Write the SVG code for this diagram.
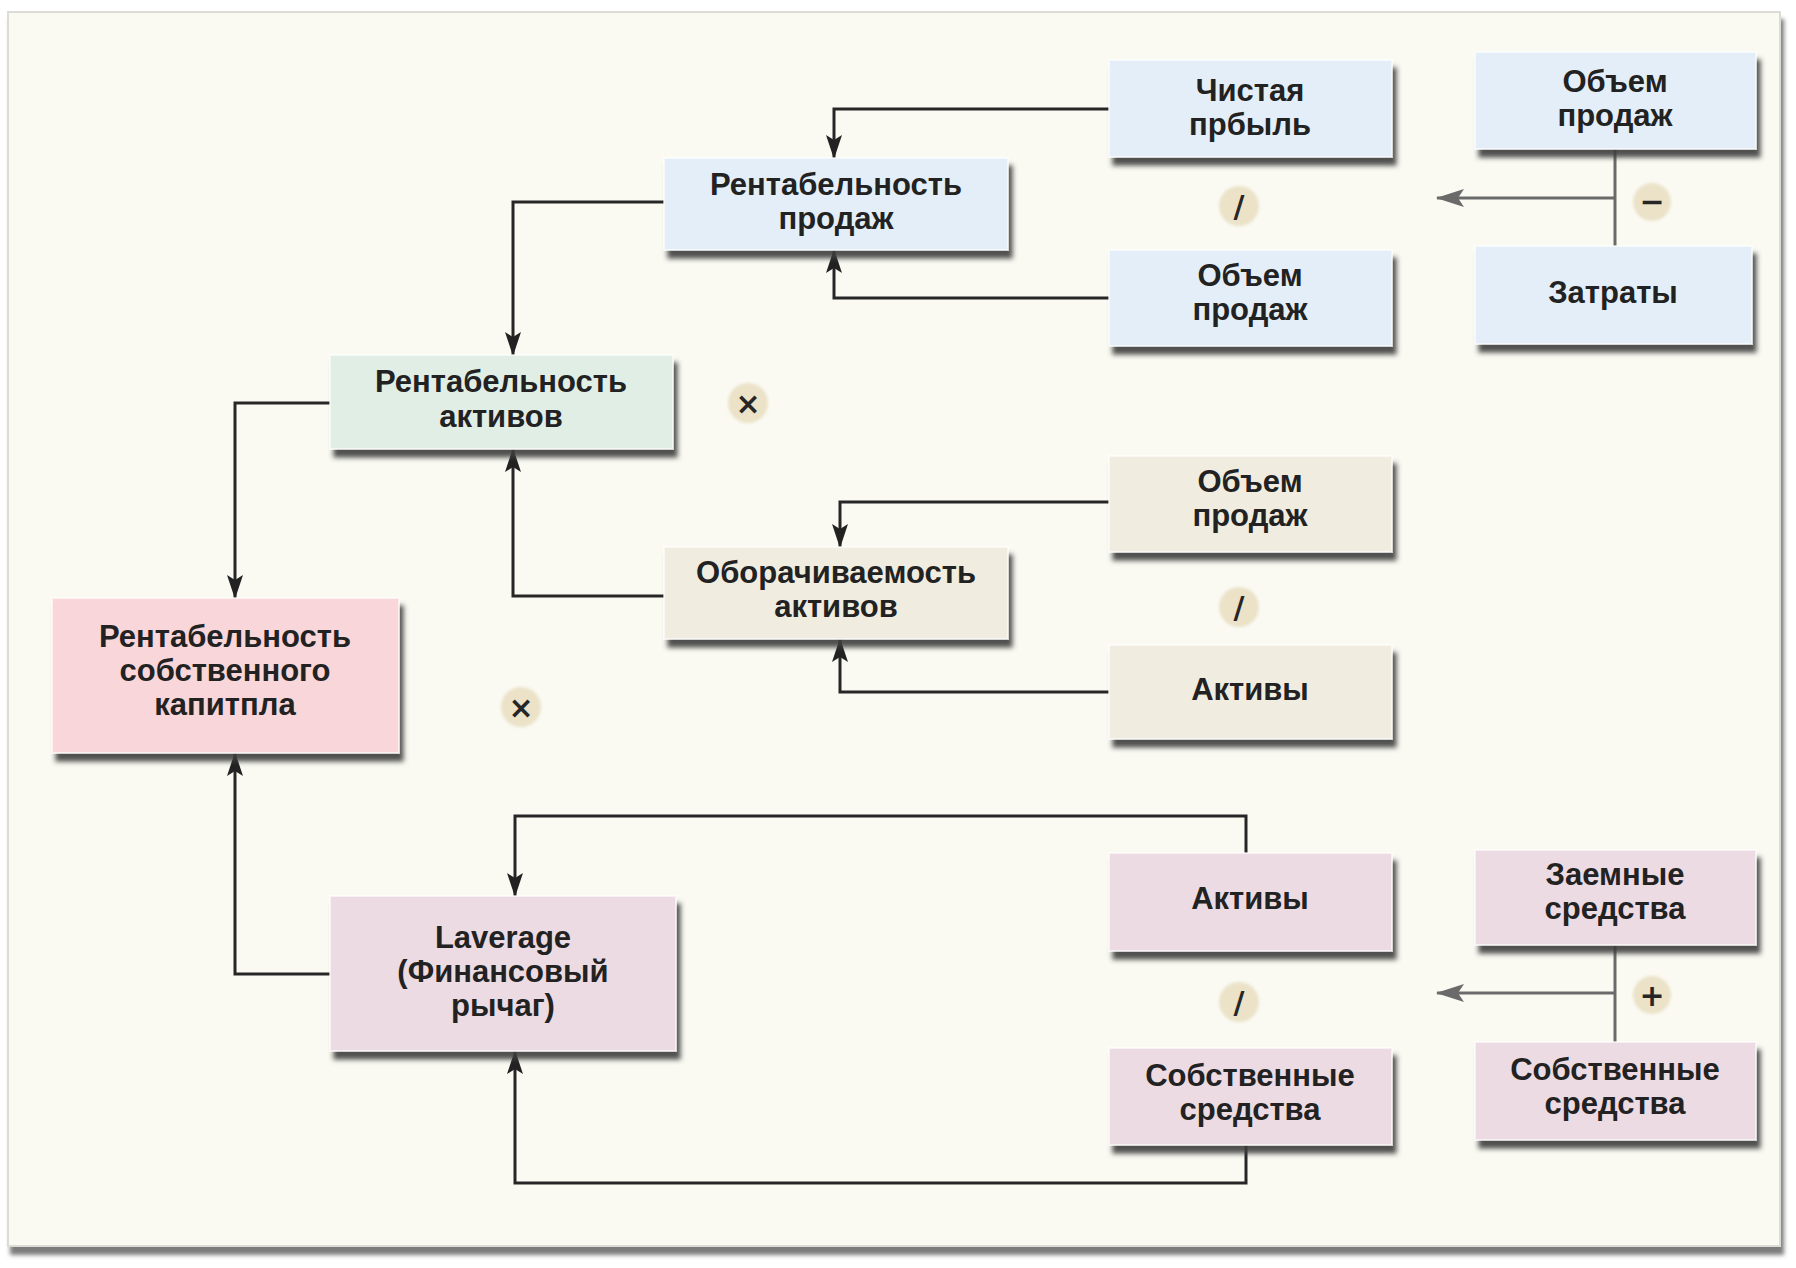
<svg xmlns="http://www.w3.org/2000/svg" width="1796" height="1268" viewBox="0 0 1796 1268">
<defs>
<filter id="sh" x="-10%" y="-10%" width="125%" height="140%">
<feGaussianBlur in="SourceAlpha" stdDeviation="2.5"/>
<feOffset dx="4" dy="8" result="b"/>
<feFlood flood-color="#3e3e3e" flood-opacity="0.9"/>
<feComposite in2="b" operator="in"/>
<feMerge><feMergeNode/><feMergeNode in="SourceGraphic"/></feMerge>
</filter>
<filter id="psh" x="-2%" y="-2%" width="104%" height="104%">
<feGaussianBlur in="SourceAlpha" stdDeviation="2"/>
<feOffset dx="3" dy="8" result="b"/>
<feFlood flood-color="#6e6e6e" flood-opacity="0.9"/>
<feComposite in2="b" operator="in"/>
<feMerge><feMergeNode/><feMergeNode in="SourceGraphic"/></feMerge>
</filter>
<filter id="soft" x="-30%" y="-30%" width="160%" height="160%">
<feGaussianBlur stdDeviation="1.5"/>
</filter>
<marker id="arr" markerUnits="userSpaceOnUse" markerWidth="24" markerHeight="16" refX="23" refY="8" orient="auto">
<path d="M0,0 L24,8 L0,16 L5,8 z" fill="#222"/>
</marker>
<marker id="garr" markerUnits="userSpaceOnUse" markerWidth="28" markerHeight="18" refX="27" refY="9" orient="auto">
<path d="M0,0 L28,9 L0,18 L6,9 z" fill="#6a6a6a"/>
</marker>
</defs>
<style>
.box{filter:url(#sh);stroke:#ffffff;stroke-width:2;stroke-opacity:0.6}
.blue{fill:#e4eef8}
.green{fill:#e1eee6}
.beige{fill:#f0ece0}
.pink{fill:#f8d6d9}
.mauve{fill:#ecdbe2}
.t{font-family:"Liberation Sans",Arial,sans-serif;font-weight:bold;font-size:31px;fill:#222;text-anchor:middle}
.c{stroke:#262626;stroke-width:3;fill:none}
.g{stroke:#6a6a6a;stroke-width:3;fill:none}
.op{fill:#ebe2c8;filter:url(#soft)}
.ot{font-family:"DejaVu Sans",sans-serif;font-weight:bold;font-size:30px;fill:#262626;text-anchor:middle}
</style>
<rect x="0" y="0" width="1796" height="1268" fill="#ffffff"/>
<rect x="8" y="12" width="1772" height="1234" fill="#fafaf3" stroke="#dcdcd6" stroke-width="2" filter="url(#psh)"/>

<g id="connectors">
<polyline class="c" points="1109,109 834,109 834,158" marker-end="url(#arr)"/>
<polyline class="c" points="1109,298 834,298 834,250" marker-end="url(#arr)"/>
<polyline class="c" points="664,202 513,202 513,355" marker-end="url(#arr)"/>
<polyline class="c" points="330,403 235,403 235,598" marker-end="url(#arr)"/>
<polyline class="c" points="664,596 513,596 513,449" marker-end="url(#arr)"/>
<polyline class="c" points="1109,502 840,502 840,547" marker-end="url(#arr)"/>
<polyline class="c" points="1109,692 840,692 840,639" marker-end="url(#arr)"/>
<polyline class="c" points="330,974 235,974 235,753" marker-end="url(#arr)"/>
<polyline class="c" points="1246,853 1246,816 515,816 515,896" marker-end="url(#arr)"/>
<polyline class="c" points="1246,1145 1246,1183 515,1183 515,1051" marker-end="url(#arr)"/>
<line class="g" x1="1615" y1="149" x2="1615" y2="246"/>
<line class="g" x1="1615" y1="198" x2="1437" y2="198" marker-end="url(#garr)"/>
<line class="g" x1="1615" y1="945" x2="1615" y2="1042"/>
<line class="g" x1="1615" y1="993" x2="1437" y2="993" marker-end="url(#garr)"/>
</g>

<g id="n-chistaya">
<rect class="box blue" x="1109" y="60" width="283" height="97"/>
<text class="t" x="1250" y="101">Чистая</text>
<text class="t" x="1250" y="135">прбыль</text>
</g>
<g id="n-obem1">
<rect class="box blue" x="1475" y="52" width="281" height="97"/>
<text class="t" x="1615" y="92">Объем</text>
<text class="t" x="1615" y="126">продаж</text>
</g>
<g id="n-rent-prodazh">
<rect class="box blue" x="664" y="158" width="344" height="92"/>
<text class="t" x="836" y="195">Рентабельность</text>
<text class="t" x="836" y="229">продаж</text>
</g>
<g id="n-obem2">
<rect class="box blue" x="1109" y="250" width="283" height="96"/>
<text class="t" x="1250" y="286">Объем</text>
<text class="t" x="1250" y="320">продаж</text>
</g>
<g id="n-zatraty">
<rect class="box blue" x="1475" y="246" width="277" height="98"/>
<text class="t" x="1613" y="303">Затраты</text>
</g>
<g id="n-rent-aktivov">
<rect class="box green" x="330" y="355" width="343" height="94"/>
<text class="t" x="501" y="392">Рентабельность</text>
<text class="t" x="501" y="427">активов</text>
</g>
<g id="n-obem3">
<rect class="box beige" x="1109" y="456" width="283" height="96"/>
<text class="t" x="1250" y="492">Объем</text>
<text class="t" x="1250" y="526">продаж</text>
</g>
<g id="n-oborach">
<rect class="box beige" x="664" y="547" width="344" height="92"/>
<text class="t" x="836" y="583">Оборачиваемость</text>
<text class="t" x="836" y="617">активов</text>
</g>
<g id="n-aktivy1">
<rect class="box beige" x="1109" y="645" width="283" height="94"/>
<text class="t" x="1250" y="700">Активы</text>
</g>
<g id="n-rent-sobst">
<rect class="box pink" x="52" y="598" width="347" height="155"/>
<text class="t" x="225" y="647">Рентабельность</text>
<text class="t" x="225" y="681">собственного</text>
<text class="t" x="225" y="715">капитпла</text>
</g>
<g id="n-aktivy2">
<rect class="box mauve" x="1109" y="853" width="283" height="98"/>
<text class="t" x="1250" y="909">Активы</text>
</g>
<g id="n-zaemnye">
<rect class="box mauve" x="1475" y="850" width="281" height="95"/>
<text class="t" x="1615" y="885">Заемные</text>
<text class="t" x="1615" y="919">средства</text>
</g>
<g id="n-laverage">
<rect class="box mauve" x="330" y="896" width="346" height="155"/>
<text class="t" x="503" y="948">Laverage</text>
<text class="t" x="503" y="982">(Финансовый</text>
<text class="t" x="503" y="1016">рычаг)</text>
</g>
<g id="n-sobst1">
<rect class="box mauve" x="1109" y="1048" width="283" height="97"/>
<text class="t" x="1250" y="1086">Собственные</text>
<text class="t" x="1250" y="1120">средства</text>
</g>
<g id="n-sobst2">
<rect class="box mauve" x="1475" y="1042" width="281" height="98"/>
<text class="t" x="1615" y="1080">Собственные</text>
<text class="t" x="1615" y="1114">средства</text>
</g>

<g id="operators">
<circle class="op" cx="1239" cy="206" r="20"/><text class="ot" x="1239" y="217">/</text>
<circle class="op" cx="1652" cy="202" r="19"/><text class="ot" x="1652" y="212">−</text>
<circle class="op" cx="748" cy="403" r="20"/><text class="ot" x="748" y="414">×</text>
<circle class="op" cx="1239" cy="607" r="20"/><text class="ot" x="1239" y="618">/</text>
<circle class="op" cx="521" cy="707" r="20"/><text class="ot" x="521" y="718">×</text>
<circle class="op" cx="1239" cy="1002" r="20"/><text class="ot" x="1239" y="1013">/</text>
<circle class="op" cx="1652" cy="995" r="19"/><text class="ot" x="1652" y="1006">+</text>
</g>
</svg>
